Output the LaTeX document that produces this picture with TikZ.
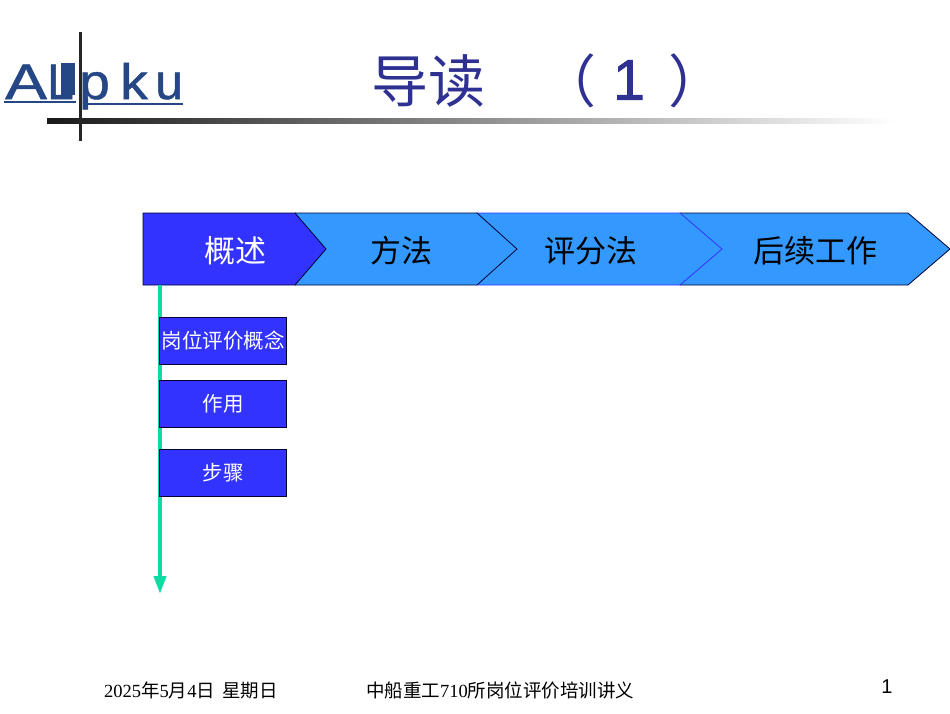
\documentclass[tikz,border=0pt]{standalone}
\usepackage{fontspec}
\setmainfont{Liberation Serif}
\newfontfamily\cjk{Noto Sans CJK SC}
\newfontfamily\lat{Liberation Sans}
\newfontfamily\logof[FakeBold=1]{Liberation Sans}
\newfontfamily\onef[FakeBold=1.5]{Liberation Sans}
\usetikzlibrary{arrows.meta}
\definecolor{deep}{HTML}{3333FF}
\definecolor{sky}{HTML}{3399FF}
\definecolor{teal1}{HTML}{0FDCA5}
\definecolor{titleblue}{HTML}{2E3192}
\definecolor{logoblue}{HTML}{264785}
\tikzset{
  chev/.style={draw=#1,line width=.8pt,fill=sky},
  lab/.style={inner sep=0pt,font=\fontsize{31}{31}\selectfont\cjk},
  subbox/.style={draw=black!80!blue,line width=.8pt,fill=deep,text=white,minimum width=127pt,minimum height=47pt,inner sep=0pt,font=\fontsize{20.5}{20.5}\selectfont\cjk},
  logo/.style={inner sep=0pt,text=logoblue,anchor=base west,font=\fontsize{50}{50}\selectfont\logof},
  ttl/.style={inner sep=0pt,text=titleblue,font=\fontsize{57}{57}\selectfont\cjk},
  foot/.style={inner sep=0pt,anchor=west,font=\fontsize{18.5}{18.5}\selectfont},
}
\begin{document}
\begin{tikzpicture}[x=1pt,y=-1pt]
\useasboundingbox (0,0) rectangle (950,713);
% logo
\node[logo,xscale=1.25] (la) at (5,99) {A};
\node[logo,xscale=.95] (ll) at (47,99) {L};
\fill[logoblue] (61,63) rectangle (75,95);
\fill[logoblue] (4,101) rectangle (76,103);
\node[logo,xscale=1.1] (lp) at (79,99) {p};
\node[logo,xscale=1.1] (lk) at (120,99) {k};
\node[logo] (lu) at (155,99) {u};
\fill[logoblue] (88,102.5) rectangle (183,105);
% rules
\shade[left color=black!90,right color=white] (47,118) rectangle (895,123);
\fill[black!85] (79,32) rectangle (82,141);
% title
\node[ttl] (t1) at (428,81) {导读};
\node[ttl] (t2) at (568,81) {（};
\node[ttl,font=\fontsize{57}{57}\selectfont\onef] (t3) at (629,80) {1};
\node[ttl] (t4) at (697,81) {）};
% chevrons
\draw[chev=black!80!blue] (680,213) -- (908,213) -- (950,249) -- (908,285) -- (680,285) -- cycle;
\draw[chev=blue!80!white] (477,213) -- (680,213) -- (722,249) -- (680,285) -- (477,285) -- cycle;
\draw[chev=black!80!blue] (295,213) -- (477,213) -- (517,249) -- (477,285) -- (295,285) -- cycle;
\draw[chev=black!80!blue,fill=deep] (143,213) -- (295,213) -- (326,249) -- (295,285) -- (143,285) -- cycle;
\node[lab,text=white] (c1) at (235,251) {概述};
\node[lab] (c2) at (401,251) {方法};
\node[lab] (c3) at (591,251) {评分法};
\node[lab] (c4) at (815,251) {后续工作};
% arrow
\coordinate (astart) at (160,285);
\coordinate (aend) at (160,594);
\draw[teal1,line width=4pt,-{Triangle[length=18pt,width=12pt]}] (astart) -- (aend);
% boxes
\node[subbox] (b1) at (223,340.5) {岗位评价概念};
\node[subbox] (b2) at (223,403.5) {作用};
\node[subbox] (b3) at (223,472.5) {步骤};
% footer
\node[foot] (f1) at (104,690) {2025{\cjk 年}5{\cjk 月}4{\cjk 日}\hspace{7pt}{\cjk 星期日}};
\node[foot] (f2) at (366,690) {{\cjk 中船重工}710{\cjk 所岗位评价培训讲义}};
\node[inner sep=0pt,font=\fontsize{20}{20}\selectfont\lat] (pg) at (887,687) {1};
\end{tikzpicture}
\end{document}
